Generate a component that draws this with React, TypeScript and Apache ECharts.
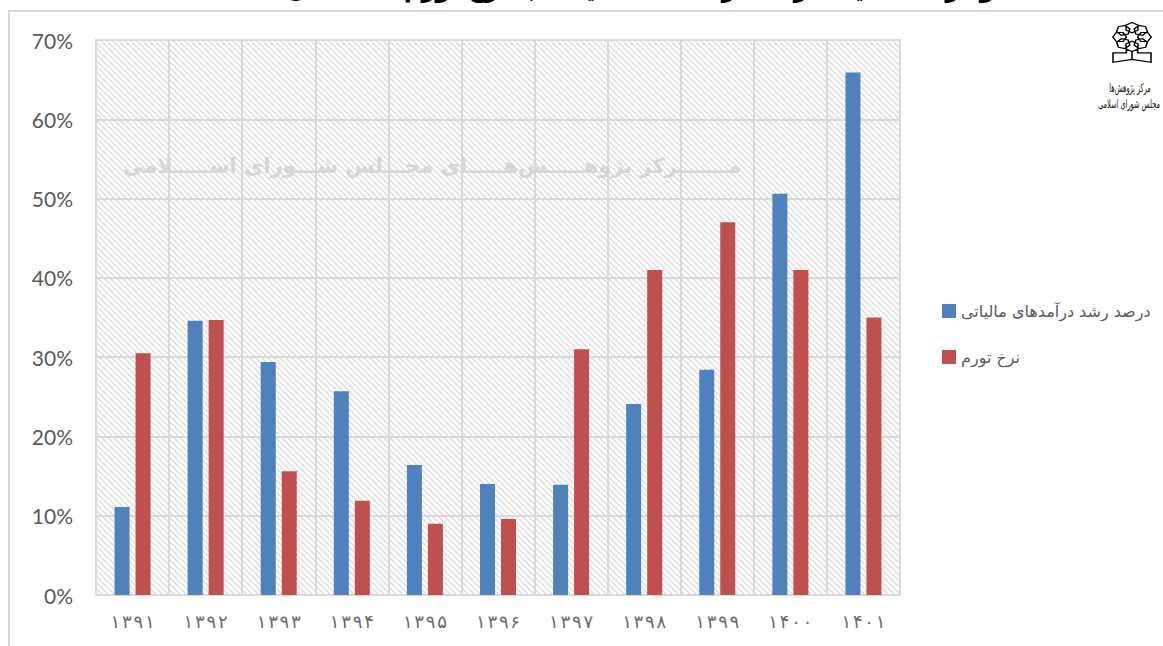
import React, { useEffect, useRef } from "react";
import * as echarts from "echarts";

const categories = ["۱۳۹۱", "۱۳۹۲", "۱۳۹۳", "۱۳۹۴", "۱۳۹۵", "۱۳۹۶", "۱۳۹۷", "۱۳۹۸", "۱۳۹۹", "۱۴۰۰", "۱۴۰۱"];
const taxGrowth = [11.1, 34.6, 29.4, 25.7, 16.4, 14.0, 13.9, 24.1, 28.4, 50.6, 65.9];
const inflation = [30.5, 34.7, 15.6, 11.9, 9.0, 9.6, 31.0, 41.0, 47.0, 41.0, 35.0];
const seriesNames = ["درصد رشد درآمدهای مالیاتی", "نرخ تورم"];
const seriesColors = ["#4F81BD", "#C0504D"];
const watermark = "مـــــــرکز پژوهـــــش‌هـــــای مجـــلس شـــورای اســـــلامی";
const titleText = "نمودار ۱. مقایسه رشد درآمدهای مالیاتی با نرخ تورم طی سال‌های ۱۳۹۱ تا ۱۴۰۱";
const logoLines = ["مرکز پژوهش‌ها", "مجلس شورای اسلامی"];

function rosettePath(): string {
  const parts: string[] = [];
  for (let i = 0; i < 8; i++) {
    const a = (Math.PI / 4) * i - Math.PI / 2;
    const cx = Math.cos(a) * 13;
    const cy = Math.sin(a) * 13;
    const pts: string[] = [];
    for (let k = 0; k < 6; k++) {
      const b = a + (Math.PI / 3) * k;
      pts.push(`${(cx + Math.cos(b) * 7.2).toFixed(2)} ${(cy + Math.sin(b) * 7.2).toFixed(2)}`);
    }
    parts.push(`M${pts.join("L")}Z`);
  }
  parts.push("M-6 14L-6 22L-20 22L-20 35L0 31L20 35L20 22L6 22L6 14");
  parts.push("M0 20L0 31");
  return parts.join("");
}
echarts.graphic.registerShape("mrcLogo", echarts.graphic.extendPath(rosettePath(), {}));

function hatchTile(): HTMLCanvasElement {
  const size = 6;
  const c = document.createElement("canvas");
  c.width = size;
  c.height = size;
  const g = c.getContext("2d")!;
  g.fillStyle = "#ffffff";
  g.fillRect(0, 0, size, size);
  g.strokeStyle = "#d9d9d9";
  g.lineWidth = 1.3;
  for (const off of [-size, 0, size]) {
    g.beginPath();
    g.moveTo(off, 0);
    g.lineTo(off + size, size);
    g.stroke();
  }
  return c;
}

export default function App() {
  const ref = useRef<HTMLDivElement>(null);
  useEffect(() => {
    document.body.style.margin = "0";
    const chart = echarts.init(ref.current!, null, { renderer: "svg" });
    const gridColor = "#d9d9d9";
    chart.setOption({
      animation: false,
      backgroundColor: "#ffffff",
      grid: {
        show: true,
        left: 96,
        top: 40,
        width: 804,
        height: 555,
        borderColor: gridColor,
        borderWidth: 2,
        backgroundColor: { image: hatchTile(), repeat: "repeat" },
      },
      legend: {
        orient: "vertical",
        left: 937,
        top: 298,
        itemWidth: 14,
        itemHeight: 14,
        itemGap: 30,
        icon: "rect",
        textStyle: { fontFamily: "DejaVu Sans", fontSize: 16, color: "#595959" },
        data: seriesNames,
      },
      xAxis: {
        type: "category",
        data: categories,
        axisTick: { show: false },
        axisLine: { lineStyle: { color: gridColor, width: 2 } },
        splitLine: { show: true, lineStyle: { color: gridColor, width: 2 } },
        axisLabel: {
          fontFamily: "DejaVu Sans",
          fontSize: 18,
          color: "#6a6a6a",
          margin: 17,
          formatter: (v: string) => v.split("").join("\u200A"),
        },
      },
      yAxis: {
        type: "value",
        min: 0,
        max: 70,
        interval: 10,
        axisLine: { show: false },
        axisTick: { show: false },
        splitLine: { lineStyle: { color: gridColor, width: 2 } },
        axisLabel: { formatter: "{value}%", fontFamily: "Lato", fontSize: 21, color: "#595959", margin: 23, padding: [0, 0, 3, 0] },
      },
      series: [
        { name: seriesNames[0], type: "bar", data: taxGrowth, barWidth: 15, barGap: "40%", itemStyle: { color: seriesColors[0] } },
        { name: seriesNames[1], type: "bar", data: inflation, barWidth: 15, barGap: "40%", itemStyle: { color: seriesColors[1] } },
      ],
      graphic: [
        { type: "line", silent: true, shape: { x1: 8, y1: 11, x2: 1163, y2: 11 }, style: { stroke: gridColor, lineWidth: 2 } },
        { type: "line", silent: true, shape: { x1: 9, y1: 11, x2: 9, y2: 646 }, style: { stroke: gridColor, lineWidth: 2 } },
        {
          type: "text", silent: true, x: 1020, y: 1,
          style: { text: titleText, fill: "#000000", font: "bold 24px 'DejaVu Sans'", textAlign: "right", textVerticalAlign: "bottom" },
        },
        {
          type: "text", silent: true, x: 432, y: 166, z: 1,
          style: { text: watermark, fill: "#d6d6d6", font: "bold 21px 'DejaVu Sans'", textAlign: "center", textVerticalAlign: "middle" },
        },
        {
          type: "mrcLogo", silent: true, x: 1132, y: 37, scaleX: 0.95, scaleY: 0.72,
          style: { fill: "none", stroke: "#000000", lineWidth: 1.6 },
        },
        {
          type: "text", silent: true, x: 1130, y: 88, scaleX: 0.65, scaleY: 1.2,
          style: { text: logoLines[0], fill: "#111111", font: "10px 'DejaVu Sans'", textAlign: "center", textVerticalAlign: "middle" },
        },
        {
          type: "text", silent: true, x: 1129, y: 104, scaleX: 0.66, scaleY: 1.2,
          style: { text: logoLines[1], fill: "#111111", font: "10px 'DejaVu Sans'", textAlign: "center", textVerticalAlign: "middle" },
        },
      ],
    });
    return () => chart.dispose();
  }, []);
  return <div ref={ref} style={{ position: "absolute", left: 0, top: 0, width: 1163, height: 646 }} />;
}
